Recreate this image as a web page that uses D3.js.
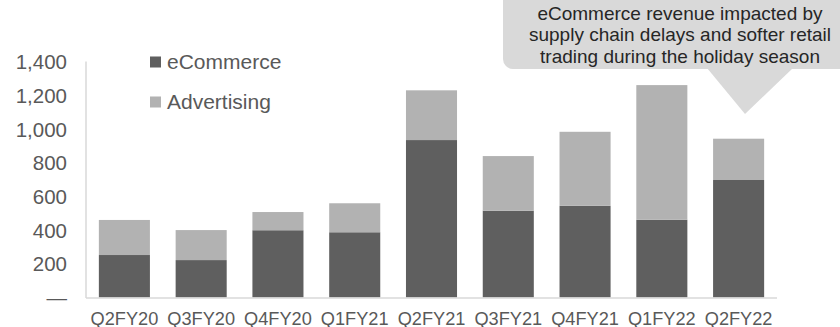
<!DOCTYPE html>
<html>
<head>
<meta charset="utf-8">
<script src="https://cdn.jsdelivr.net/npm/d3@7"></script>
<style>
  html, body { margin: 0; padding: 0; background: #fff; }
  svg { display: block; font-family: "Liberation Sans", Arial, sans-serif; }
</style>
</head>
<body>
<svg id="chart" width="840" height="327"></svg>
<script>
// Quarterly revenue by segment (US$ million)
const quarters = ["Q2FY20", "Q3FY20", "Q4FY20", "Q1FY21", "Q2FY21", "Q3FY21", "Q4FY21", "Q1FY22", "Q2FY22"];
const eCommerce = [252, 222, 399, 387, 934, 515, 544, 461, 697];
const advertising = [208, 178, 108, 172, 295, 324, 439, 799, 245];
const yTicks = [0, 200, 400, 600, 800, 1000, 1200, 1400];
const seriesNames = ["eCommerce", "Advertising"];
const seriesColors = ["#5f5f5f", "#b2b2b2"];
const calloutLines = [
  "eCommerce revenue impacted by",
  "supply chain delays and softer retail",
  "trading during the holiday season"
];

const svg = d3.select("#chart");

const x = d3.scaleBand()
  .domain(quarters)
  .range([86, 777])
  .paddingInner(0.335)
  .paddingOuter(0.1675);

const y = d3.scaleLinear()
  .domain([0, 1400])
  .range([297.5, 61.5]);

// Stack the two segments
const rows = quarters.map((q, i) => ({ q, eCommerce: eCommerce[i], Advertising: advertising[i] }));
const stacked = d3.stack().keys(seriesNames)(rows);

// Title (sits above the visible area)
svg.append("text")
  .attr("x", 270)
  .attr("y", -5)
  .attr("font-size", 25)
  .attr("font-weight", "bold")
  .attr("fill", "#000")
  .text("(US$ million)");

// Bars
svg.append("g")
  .selectAll("g")
  .data(stacked)
  .join("g")
  .attr("fill", (d, i) => seriesColors[i])
  .selectAll("rect")
  .data(d => d)
  .join("rect")
  .attr("x", d => x(d.data.q))
  .attr("width", x.bandwidth())
  .attr("y", d => y(d[1]))
  .attr("height", d => y(d[0]) - y(d[1]));

// Axis lines
const axisColor = "#d9d9d9";
svg.append("line")
  .attr("x1", 86).attr("x2", 86)
  .attr("y1", y(1400)).attr("y2", y(0) + 0.5)
  .attr("stroke", axisColor).attr("stroke-width", 1.5);
svg.append("line")
  .attr("x1", 86).attr("x2", 777)
  .attr("y1", y(0) + 0.5).attr("y2", y(0) + 0.5)
  .attr("stroke", axisColor).attr("stroke-width", 1.5);

// Y-axis labels
const fmt = d3.format(",");
const yAxis = d3.axisLeft(y)
  .tickValues(yTicks)
  .tickSize(0)
  .tickPadding(0)
  .tickFormat(d => d === 0 ? "\u2014" : fmt(d));
const yg = svg.append("g")
  .attr("transform", "translate(67,0)")
  .call(yAxis);
yg.select(".domain").remove();
yg.selectAll("text")
  .attr("font-size", 20.5)
  .attr("font-family", "Liberation Sans, Arial, sans-serif")
  .attr("fill", "#595959")
  .attr("dy", "0.35em");

// X-axis labels
const xAxis = d3.axisBottom(x).tickSize(0).tickPadding(0);
const xg = svg.append("g")
  .call(xAxis);
xg.select(".domain").remove();
xg.selectAll("text")
  .attr("y", 324.5)
  .attr("dy", 0)
  .attr("font-size", 18.2)
  .attr("font-family", "Liberation Sans, Arial, sans-serif")
  .attr("fill", "#595959");

// Legend
const legend = svg.append("g");
seriesNames.forEach((name, i) => {
  const cy = 62 + i * 40;
  legend.append("rect")
    .attr("x", 150).attr("y", cy - 5.5)
    .attr("width", 11).attr("height", 11)
    .attr("fill", seriesColors[i]);
  legend.append("text")
    .attr("x", 167).attr("y", cy)
    .attr("dy", "0.35em")
    .attr("font-size", 21)
    .attr("fill", "#595959")
    .text(name);
});

// Callout bubble pointing at the latest quarter
const callout = svg.append("g");
callout.append("rect")
  .attr("x", 503).attr("y", -20)
  .attr("width", 360).attr("height", 89)
  .attr("rx", 10)
  .attr("fill", "#d9d9d9");
callout.append("path")
  .attr("d", "M707,68 L793,68 L745,114 Z")
  .attr("fill", "#d9d9d9");
callout.selectAll("text")
  .data(calloutLines)
  .join("text")
  .attr("x", 680)
  .attr("y", (d, i) => 13 + i * 21.5)
  .attr("dy", "0.35em")
  .attr("text-anchor", "middle")
  .attr("font-size", 19)
  .attr("fill", "#262626")
  .text(d => d);
</script>
</body>
</html>
